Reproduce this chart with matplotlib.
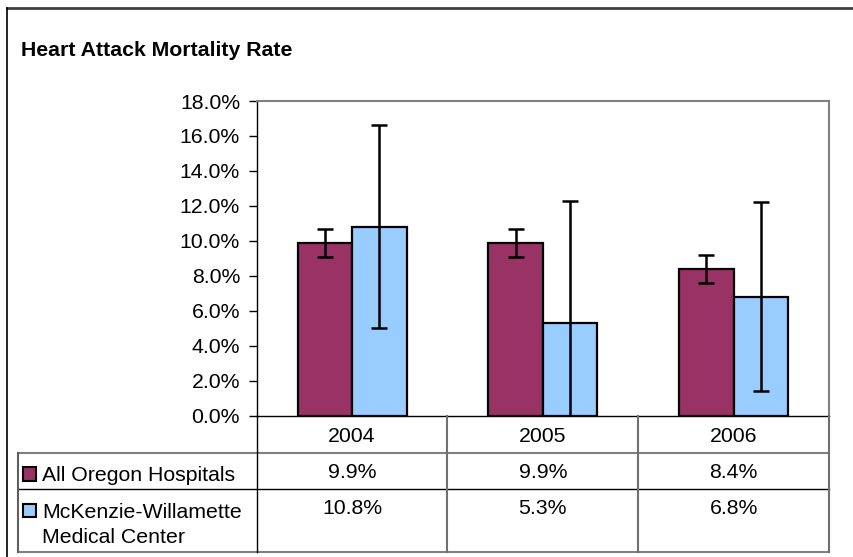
import matplotlib
matplotlib.use("Agg")
import matplotlib.pyplot as plt
from matplotlib import transforms
from matplotlib.lines import Line2D
from matplotlib.patches import Rectangle
import numpy as np

# ---- data ----
title = "Heart Attack Mortality Rate"
years = ["2004", "2005", "2006"]
series_names = ["All Oregon Hospitals", "McKenzie-Willamette\nMedical Center"]
oregon = [9.9, 9.9, 8.4]
oregon_low = [9.1, 9.1, 7.6]
oregon_high = [10.7, 10.7, 9.2]
mckenzie = [10.8, 5.3, 6.8]
mckenzie_low = [5.0, -1.7, 1.4]
mckenzie_high = [16.6, 12.3, 12.2]
yticks = [0, 2, 4, 6, 8, 10, 12, 14, 16, 18]

# ---- style ----
W, H = 854, 557
C_OREGON = "#993366"
C_MCK = "#99CCFF"
FS = 15.3
plt.rcParams['font.family'] = ['Liberation Sans', 'DejaVu Sans']

fig = plt.figure(figsize=(W / 100, H / 100), dpi=100)

def fx(px):
    return px / W

def fy(py):
    return 1 - py / H

L, R, T, B = 256.7, 829, 101, 415.7
ax = fig.add_axes([fx(L), fy(B), fx(R) - fx(L), fy(T) - fy(B)])

x = np.arange(len(years))
bw = 0.286
ax.bar(x - bw / 2, oregon, bw, color=C_OREGON, edgecolor="black", linewidth=1.6, zorder=2)
ax.bar(x + bw / 2, mckenzie, bw, color=C_MCK, edgecolor="black", linewidth=1.6, zorder=2)

o = np.array(oregon); m = np.array(mckenzie)
ax.errorbar(x - bw / 2, o, yerr=[o - np.array(oregon_low), np.array(oregon_high) - o],
            fmt="none", ecolor="black", elinewidth=1.8, capsize=5.5, capthick=1.8, zorder=3)
ax.errorbar(x + bw / 2, m, yerr=[m - np.array(mckenzie_low), np.array(mckenzie_high) - m],
            fmt="none", ecolor="black", elinewidth=1.8, capsize=5.5, capthick=1.8, zorder=3)

ax.set_xlim(-0.5, len(years) - 0.5)
ax.set_ylim(0, 18)
ax.set_yticks(yticks)
ax.set_yticklabels([f"{v:.1f}%" for v in yticks], fontsize=FS)
ax.set_xticks([])
ax.tick_params(axis="y", direction="out", length=6, width=1, pad=6, colors="black")
for s in ["top", "right"]:
    ax.spines[s].set_color("#808080")
    ax.spines[s].set_linewidth(1.5)
for s in ["left", "bottom"]:
    ax.spines[s].set_color("black")
    ax.spines[s].set_linewidth(1.0)

# title
fig.text(fx(21), fy(56), title, fontsize=FS, fontweight="bold", va="baseline", ha="left")

# ---- data table ----
bt = transforms.blended_transform_factory(ax.transData, fig.transFigure)
tab_left = 18
fig.add_artist(Line2D([fx(tab_left), fx(R)], [fy(452.7)] * 2, color="#808080", lw=1.5, transform=fig.transFigure))
fig.add_artist(Line2D([fx(tab_left), fx(R)], [fy(489)] * 2, color="black", lw=1.0, transform=fig.transFigure))
fig.add_artist(Line2D([fx(tab_left), fx(R)], [fy(552)] * 2, color="#808080", lw=1.5, transform=fig.transFigure))
fig.add_artist(Line2D([fx(tab_left)] * 2, [fy(452.7), fy(552)], color="#606060", lw=1.5, transform=fig.transFigure))
fig.add_artist(Line2D([-0.5, -0.5], [fy(B), fy(552)], color="black", lw=1.0, transform=bt))
for i in range(1, len(years) + 1):
    fig.add_artist(Line2D([i - 0.5, i - 0.5], [fy(B), fy(552)], color="#707070", lw=1.5, transform=bt))

# category labels
for i, yr in enumerate(years):
    fig.text(i, fy(442), yr, transform=bt, ha="center", va="baseline", fontsize=FS)
# values
for i, v in enumerate(oregon):
    fig.text(i, fy(478.5), f"{v:.1f}%", transform=bt, ha="center", va="baseline", fontsize=FS)
for i, v in enumerate(mckenzie):
    fig.text(i, fy(514.5), f"{v:.1f}%", transform=bt, ha="center", va="baseline", fontsize=FS)

# row headers
fig.text(fx(42), fy(481), series_names[0], ha="left", va="baseline", fontsize=FS)
n1, n2 = series_names[1].split("\n")
fig.text(fx(42), fy(518), n1, ha="left", va="baseline", fontsize=FS)
fig.text(fx(42), fy(543), n2, ha="left", va="baseline", fontsize=FS)

# legend keys
fig.add_artist(Rectangle((fx(23), fy(481)), fx(13), fy(467) - fy(481), facecolor=C_OREGON,
                         edgecolor="black", lw=1.5, transform=fig.transFigure))
fig.add_artist(Rectangle((fx(23), fy(517)), fx(13), fy(504) - fy(517), facecolor=C_MCK,
                         edgecolor="black", lw=1.5, transform=fig.transFigure))

# outer frame (top and left visible)
fig.add_artist(Line2D([fx(7), 1], [fy(7.5)] * 2, color="#404040", lw=2, transform=fig.transFigure))
fig.add_artist(Line2D([fx(7), fx(7)], [fy(7.5), 0], color="black", lw=1.2, transform=fig.transFigure))

fig.savefig("out.png", dpi=100)
